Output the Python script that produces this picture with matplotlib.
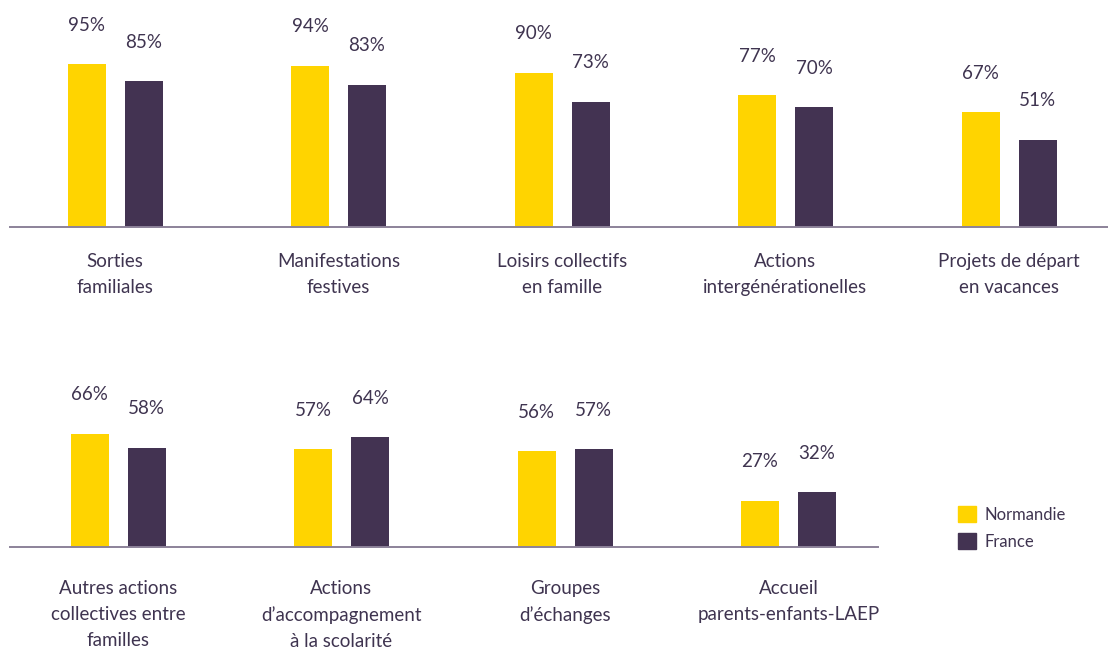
#!/usr/bin/env python3
"""Actions des centres sociaux : Normandie vs France, deux rangées de barres groupées."""

import matplotlib

matplotlib.use("Agg")
from matplotlib import pyplot as plt
from matplotlib.patches import Patch

TOP_CATEGORIES = [
    "Sorties\nfamiliales",
    "Manifestations\nfestives",
    "Loisirs collectifs\nen famille",
    "Actions\nintergénérationelles",
    "Projets de départ\nen vacances",
]
TOP_NORMANDIE = [95, 94, 90, 77, 67]
TOP_FRANCE = [85, 83, 73, 70, 51]

BOTTOM_CATEGORIES = [
    "Autres actions\ncollectives entre\nfamilles",
    "Actions\nd’accompagnement\nà la scolarité",
    "Groupes\nd’échanges",
    "Accueil\nparents-enfants-LAEP",
]
BOTTOM_NORMANDIE = [66, 57, 56, 27]
BOTTOM_FRANCE = [58, 64, 57, 32]

SERIES = ["Normandie", "France"]
YELLOW = "#ffd400"
PURPLE = "#433352"
TEXT = "#3f3450"
AXIS = "#8c8299"

W, H = 1108, 648
PX_PER_PCT = 1.715
GROUP_PX = 223.5

plt.rcParams["font.family"] = ["Lato", "DejaVu Sans"]

fig = plt.figure(figsize=(W / 100, H / 100), dpi=100)


def _row(left_px, right_px, top_px, base_px, first_center_px, cats, norm, fra, label_pad):
    ax = fig.add_axes(
        (left_px / W, 1 - base_px / H, (right_px - left_px) / W, (base_px - top_px) / H)
    )
    x0 = -(first_center_px - left_px) / GROUP_PX
    ax.set_xlim(x0, x0 + (right_px - left_px) / GROUP_PX)
    ax.set_ylim(0, (base_px - top_px) / PX_PER_PCT)
    width = 38 / GROUP_PX
    off = 28.5 / GROUP_PX
    xs = range(len(cats))
    ax.bar([x - off for x in xs], norm, width=width, color=YELLOW)
    ax.bar([x + off for x in xs], fra, width=width, color=PURPLE)
    for x, n, f in zip(xs, norm, fra):
        for xx, v in ((x - off, n), (x + off, f)):
            ax.annotate(f"{v}%", (xx, v), xytext=(0, 28), textcoords="offset points",
                        ha="center", va="center", fontsize=13.5, color=TEXT)
        ax.annotate(cats[x], (x, 0), xytext=(0, -label_pad), textcoords="offset points",
                    ha="center", va="top", fontsize=13.5, color=TEXT, linespacing=1.62,
                    annotation_clip=False)
    for side in ("top", "right", "left"):
        ax.spines[side].set_visible(False)
    ax.spines["bottom"].set_color(AXIS)
    ax.spines["bottom"].set_linewidth(1.4)
    ax.set_xticks([])
    ax.set_yticks([])
    ax.patch.set_alpha(0)
    return ax


_row(10, 1108, 0, 227, 115, TOP_CATEGORIES, TOP_NORMANDIE, TOP_FRANCE, 19)
_row(10, 878, 330, 547, 118, BOTTOM_CATEGORIES, BOTTOM_NORMANDIE, BOTTOM_FRANCE, 24)

handles = [Patch(color=YELLOW), Patch(color=PURPLE)]
fig.legend(handles, SERIES, loc="center left", bbox_to_anchor=(943 / W, 1 - 528 / H),
           frameon=False, fontsize=12, labelcolor=TEXT, handlelength=1.1,
           handleheight=1.1, labelspacing=0.65, handletextpad=0.5)

fig.savefig("out.png", dpi=100, facecolor="white")
